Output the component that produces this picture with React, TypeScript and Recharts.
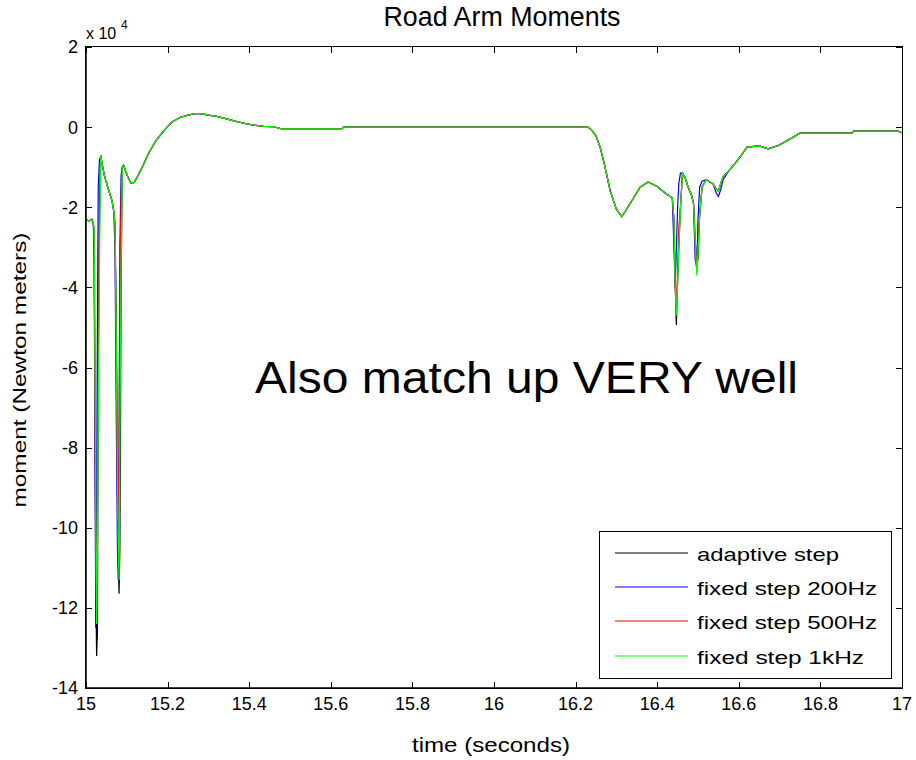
import React from 'react';
import { LineChart, Line, XAxis, YAxis, Legend, Customized } from 'recharts';

const FONT = '"Liberation Sans", Arial, Helvetica, sans-serif';

// time (seconds)
const timeSeconds = [
  15.000, 15.008, 15.014, 15.018, 15.020, 15.022, 15.024, 15.026, 15.028, 15.030,
  15.033, 15.036, 15.040, 15.046, 15.052, 15.058, 15.064, 15.068, 15.071, 15.074,
  15.077, 15.079, 15.081, 15.083, 15.086, 15.089, 15.092, 15.097, 15.103, 15.110,
  15.118, 15.128, 15.140, 15.155, 15.172, 15.190, 15.210, 15.230, 15.250, 15.268,
  15.285, 15.300, 15.320, 15.340, 15.365, 15.390, 15.410, 15.435, 15.460, 15.478,
  15.628, 15.632, 16.230, 16.240, 16.250, 16.260, 16.270, 16.285, 16.300, 16.313,
  16.325, 16.340, 16.358, 16.378, 16.400, 16.420, 16.437, 16.441, 16.444, 16.447,
  16.450, 16.453, 16.457, 16.462, 16.468, 16.476, 16.484, 16.489, 16.493, 16.497,
  16.500, 16.504, 16.510, 16.520, 16.537, 16.545, 16.550, 16.556, 16.562, 16.575,
  16.590, 16.605, 16.620, 16.650, 16.672, 16.697, 16.725, 16.750, 16.877, 16.881,
  16.990, 17.000,
];

// moment, x 10^4 Newton meters
const adaptiveStep = [
  -2.32, -2.34, -2.30, -2.40, -2.60, -7.00, -11.50, -13.20, -12.60, -6.00,
  -2.00, -0.70, -0.95, -1.25, -1.45, -1.65, -1.85, -2.10, -2.40, -4.50,
  -8.00, -10.80, -11.65, -10.50, -4.00, -1.00, -0.95, -1.10, -1.25, -1.40,
  -1.38, -1.20, -0.95, -0.62, -0.33, -0.10, 0.12, 0.24, 0.30, 0.34,
  0.33, 0.30, 0.27, 0.22, 0.15, 0.09, 0.05, 0.02, 0.01, -0.04,
  -0.04, 0.00, 0.00, -0.08, -0.22, -0.50, -0.90, -1.60, -2.05, -2.23,
  -2.05, -1.80, -1.50, -1.37, -1.48, -1.65, -1.77, -2.30, -3.90, -4.94,
  -3.80, -3.00, -2.00, -1.15, -1.25, -1.50, -1.70, -1.90, -2.80, -3.40,
  -3.30, -2.20, -1.50, -1.31, -1.42, -1.55, -1.60, -1.40, -1.23, -1.10,
  -0.92, -0.72, -0.50, -0.47, -0.54, -0.46, -0.30, -0.15, -0.15, -0.10,
  -0.10, -0.14,
];

const fixedStep200Hz = [
  -2.32, -2.34, -2.30, -2.45, -3.50, -8.00, -12.50, -9.50, -5.00, -1.50,
  -0.80, -0.75, -0.95, -1.25, -1.45, -1.65, -1.85, -2.10, -3.00, -7.00,
  -10.50, -11.30, -8.00, -3.00, -1.20, -1.00, -0.95, -1.10, -1.25, -1.40,
  -1.38, -1.20, -0.95, -0.62, -0.33, -0.10, 0.12, 0.24, 0.30, 0.34,
  0.33, 0.30, 0.27, 0.22, 0.15, 0.09, 0.05, 0.02, 0.01, -0.04,
  -0.04, 0.00, 0.00, -0.08, -0.22, -0.50, -0.90, -1.60, -2.05, -2.23,
  -2.05, -1.80, -1.50, -1.37, -1.48, -1.65, -1.77, -3.00, -4.00, -3.00,
  -2.00, -1.40, -1.15, -1.15, -1.25, -1.50, -1.70, -1.90, -3.30, -3.50,
  -2.30, -1.50, -1.35, -1.31, -1.42, -1.65, -1.73, -1.55, -1.30, -1.10,
  -0.92, -0.72, -0.50, -0.47, -0.54, -0.46, -0.30, -0.15, -0.15, -0.10,
  -0.10, -0.14,
];

const fixedStep500Hz = [
  -2.32, -2.34, -2.30, -2.40, -2.80, -6.50, -10.50, -12.00, -10.00, -6.00,
  -2.50, -0.70, -0.95, -1.25, -1.45, -1.65, -1.85, -2.10, -2.40, -5.50,
  -8.80, -9.80, -8.50, -4.00, -1.80, -1.00, -0.95, -1.10, -1.25, -1.40,
  -1.38, -1.20, -0.95, -0.62, -0.33, -0.10, 0.12, 0.24, 0.30, 0.34,
  0.33, 0.30, 0.27, 0.22, 0.15, 0.09, 0.05, 0.02, 0.01, -0.04,
  -0.04, 0.00, 0.00, -0.08, -0.22, -0.50, -0.90, -1.60, -2.05, -2.23,
  -2.05, -1.80, -1.50, -1.37, -1.48, -1.65, -1.77, -2.30, -4.00, -4.50,
  -3.60, -2.50, -2.00, -1.15, -1.25, -1.50, -1.70, -1.90, -2.80, -3.60,
  -2.80, -2.20, -1.50, -1.31, -1.42, -1.55, -1.60, -1.40, -1.23, -1.10,
  -0.92, -0.72, -0.50, -0.47, -0.54, -0.46, -0.30, -0.15, -0.15, -0.10,
  -0.10, -0.14,
];

const fixedStep1kHz = [
  -2.32, -2.34, -2.30, -2.40, -2.50, -5.50, -9.50, -12.40, -10.50, -7.50,
  -3.50, -0.70, -0.95, -1.25, -1.45, -1.65, -1.85, -2.10, -2.40, -5.00,
  -8.50, -10.50, -11.30, -8.00, -3.50, -1.00, -0.95, -1.10, -1.25, -1.40,
  -1.38, -1.20, -0.95, -0.62, -0.33, -0.10, 0.12, 0.24, 0.30, 0.34,
  0.33, 0.30, 0.27, 0.22, 0.15, 0.09, 0.05, 0.02, 0.01, -0.04,
  -0.04, 0.00, 0.00, -0.08, -0.22, -0.50, -0.90, -1.60, -2.05, -2.23,
  -2.05, -1.80, -1.50, -1.37, -1.48, -1.65, -1.77, -2.30, -3.90, -4.70,
  -4.00, -3.00, -2.00, -1.15, -1.25, -1.50, -1.70, -1.90, -2.80, -3.70,
  -3.20, -2.20, -1.50, -1.31, -1.42, -1.55, -1.60, -1.40, -1.23, -1.10,
  -0.92, -0.72, -0.50, -0.47, -0.54, -0.46, -0.30, -0.15, -0.15, -0.10,
  -0.10, -0.14,
];

const xTicks = [15, 15.2, 15.4, 15.6, 15.8, 16, 16.2, 16.4, 16.6, 16.8, 17];
const yTicks = [-14, -12, -10, -8, -6, -4, -2, 0, 2];

const seriesKeys = ['adaptive', 'f200', 'f500', 'f1k'];
const seriesNames = ['adaptive step', 'fixed step 200Hz', 'fixed step 500Hz', 'fixed step 1kHz'];
const seriesColors = ['#000000', '#0000ff', '#ff0000', '#00ff00'];
const legendTextWidths = [142, 180, 180, 167];

const rows = timeSeconds.map((t, i) => ({
  t,
  adaptive: adaptiveStep[i],
  f200: fixedStep200Hz[i],
  f500: fixedStep500Hz[i],
  f1k: fixedStep1kHz[i],
}));

// plot frame (axes box), matching the chart margins below
const PLOT = { left: 86, top: 47, right: 902, bottom: 688 };

const LegendBox = () => {
  const rowY = [21, 55, 89, 124];
  return (
    <div style={{ width: 293, height: 148, boxSizing: 'border-box', border: '1.5px solid #000', background: '#fff' }}>
      <svg width={290} height={145} style={{ display: 'block' }}>
        {seriesNames.map((name, i) => (
          <g key={name}>
            <line x1={15} x2={88} y1={rowY[i]} y2={rowY[i]} stroke={seriesColors[i]} strokeWidth={1.2} />
            <text
              x={97}
              y={rowY[i] + 8}
              fontSize={19}
              fontFamily={FONT}
              fill="#000"
              textLength={legendTextWidths[i]}
              lengthAdjust="spacingAndGlyphs"
            >
              {name}
            </text>
          </g>
        ))}
      </svg>
    </div>
  );
};

// axes box with inward ticks on all four sides (HTML overlay)
const FrameOverlay = () => {
  const w = PLOT.right - PLOT.left;
  const h = PLOT.bottom - PLOT.top;
  const tick = (key: string, left: number, top: number, width: number, height: number) => (
    <div key={key} style={{ position: 'absolute', left, top, width, height, background: '#000' }} />
  );
  const marks: React.ReactNode[] = [];
  xTicks.forEach((v, i) => {
    const x = Math.round(PLOT.left + ((v - 15) / 2) * w);
    marks.push(tick('xt' + i, x - 0.5, PLOT.top, 1, 6));
    marks.push(tick('xb' + i, x - 0.5, PLOT.bottom - 6, 1, 6));
  });
  yTicks.forEach((v, i) => {
    const y = Math.round(PLOT.top + ((2 - v) / 16) * h);
    marks.push(tick('yl' + i, PLOT.left, y - 0.5, 6, 1));
    marks.push(tick('yr' + i, PLOT.right - 6, y - 0.5, 6, 1));
  });
  return (
    <div style={{ position: 'absolute', left: 0, top: 0, width: 916, height: 760, pointerEvents: 'none' }}>
      <div
        style={{
          position: 'absolute',
          left: PLOT.left - 1,
          top: PLOT.top - 1,
          width: w + 2,
          height: h + 2,
          boxSizing: 'border-box',
          border: '1.5px solid #000',
        }}
      />
      {marks}
    </div>
  );
};

const Annotations = () => (
  <g fontFamily={FONT} fill="#000">
    <text x={502} y={26} textAnchor="middle" fontSize={27} textLength={237} lengthAdjust="spacingAndGlyphs">
      Road Arm Moments
    </text>
    <text x={86} y={39} fontSize={16}>x 10</text>
    <text x={121} y={29} fontSize={12}>4</text>
    <text x={255} y={393} fontSize={44} textLength={543} lengthAdjust="spacingAndGlyphs">
      Also match up VERY well
    </text>
    <text x={491} y={752} textAnchor="middle" fontSize={21} textLength={158} lengthAdjust="spacingAndGlyphs">
      time (seconds)
    </text>
    <text
      x={0}
      y={0}
      transform="translate(26,370) rotate(-90)"
      textAnchor="middle"
      fontSize={19}
      textLength={275}
      lengthAdjust="spacingAndGlyphs"
    >
      moment (Newton meters)
    </text>
  </g>
);

const tickStyle = { fill: '#000', fontSize: 18, fontFamily: FONT };

export default function App() {
  return (
    <div style={{ position: 'absolute', left: 0, top: 0, width: 916, height: 760, background: '#fff' }}>
      <LineChart width={916} height={760} data={rows} margin={{ top: 47, right: 14, bottom: 0, left: 0 }}>
        <XAxis
          dataKey="t"
          type="number"
          domain={[15, 17]}
          ticks={xTicks}
          interval={0}
          allowDataOverflow
          height={72}
          tickSize={-6}
          tickMargin={15}
          tick={tickStyle}
          axisLine={{ stroke: '#000', strokeWidth: 1.5 }}
          tickLine={false}
        />
        <YAxis
          type="number"
          domain={[-14, 2]}
          ticks={yTicks}
          interval={0}
          allowDataOverflow
          width={86}
          tickSize={-6}
          tickMargin={14}
          tick={tickStyle}
          axisLine={{ stroke: '#000', strokeWidth: 1.5 }}
          tickLine={false}
        />
        {seriesKeys.map((k, i) => (
          <Line
            key={k}
            dataKey={k}
            name={seriesNames[i]}
            stroke={seriesColors[i]}
            strokeWidth={1.2}
            dot={false}
            activeDot={false}
            type="linear"
            isAnimationActive={false}
          />
        ))}
        <Legend
          layout="vertical"
          align="center"
          verticalAlign="middle"
          content={<LegendBox />}
          wrapperStyle={{ position: 'absolute', left: 599, top: 531, width: 293, height: 148 }}
        />
        <Customized component={Annotations} />
      </LineChart>
      <FrameOverlay />
    </div>
  );
}
